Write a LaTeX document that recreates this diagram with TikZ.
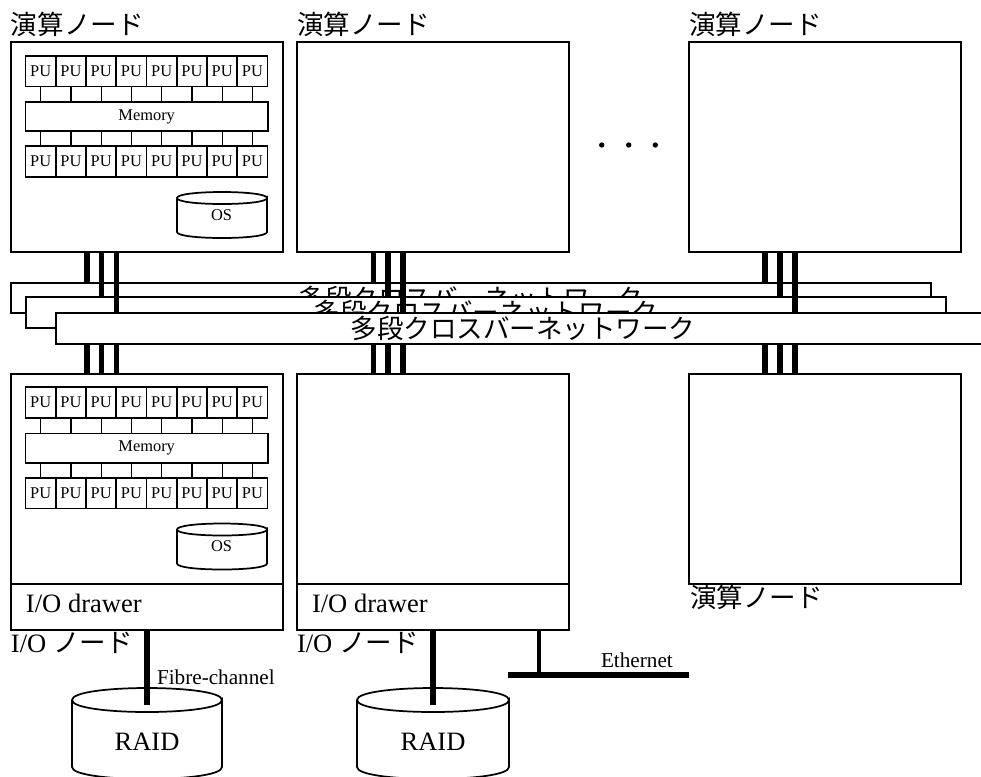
\documentclass[tikz,border=0pt]{standalone}
\usepackage{fontspec}
\setmainfont{Liberation Serif}
\newfontfamily\jp{Noto Sans CJK JP}
\usetikzlibrary{calc}
\newcommand\fsmall{\fontsize{12.3}{14}\selectfont}
\newcommand\fmid{\fontsize{15.9}{18}\selectfont}
\newcommand\fbig{\fontsize{19.9}{24}\selectfont}
\tikzset{
  x=0.75pt,y=-0.75pt,
  every node/.style={inner sep=0pt,outer sep=0pt},
  frame/.style={draw=black,fill=white,line width=1.5pt,minimum width=204pt,minimum height=157.5pt},
  drawerbox/.style={draw=black,fill=white,line width=1.5pt,minimum width=204pt,minimum height=34.5pt},
  netbar/.style={draw=black,fill=white,line width=1.5pt,minimum height=22.9pt,font=\fbig\jp},
  pubox/.style={draw=black,fill=white,line width=1.25pt,minimum width=22.7pt,minimum height=23pt,font=\fsmall},
  membox/.style={draw=black,fill=white,line width=1.25pt,minimum width=181.6pt,minimum height=22pt,font=\fsmall},
  thin link/.style={draw=black,line width=1pt},
  bus/.style={draw=black,line width=4.1pt},
  stem/.style={draw=black,line width=3pt},
  thickline/.style={draw=black,line width=4.4pt},
  jplabel/.style={anchor=west,font=\fbig\jp},
  drumline/.style={draw=black,fill=white,line width=1.3pt},
  dotmark/.style={circle,fill=black,minimum size=4pt},
}
% #1 left, #2 right, #3 top-ellipse centre y, #4 side end y, #5 ry
\newcommand\drumshape[5]{%
  \path[drumline] (#1,{#3}) -- (#1,{#4}) .. controls (#1,{#4+1.333*#5}) and (#2,{#4+1.333*#5}) .. (#2,{#4}) -- (#2,{#3})
     .. controls (#2,{#3+1.333*#5}) and (#1,{#3+1.333*#5}) .. (#1,{#3})
     .. controls (#1,{#3-1.333*#5}) and (#2,{#3-1.333*#5}) .. (#2,{#3});
}
% #1 prefix, #2 vertical offset
\newcommand\fillnode[2]{%
  \foreach \i in {0,...,7}{
    \node[pubox] (#1a\i) at ({40.7+30.25*\i},{71+#2}) {PU};
    \node[pubox] (#1b\i) at ({40.7+30.25*\i},{161.5+#2}) {PU};
  }
  \node[membox] (#1m) at (146.7,{116.5+#2}) {Memory};
  \foreach \i in {0,...,7}{
    \draw[thin link] (#1a\i.south) -- (#1a\i.south |- #1m.north);
    \draw[thin link] (#1b\i.north) -- (#1b\i.north |- #1m.south);
  }
  \drumshape{177}{267}{198+#2}{232+#2}{6}
  \node[font=\fsmall] (#1os) at (221.5,{215+#2}) {OS};
}
\begin{document}
\begin{tikzpicture}
\useasboundingbox (0,0) rectangle (981,776);

% compute nodes
\node[frame] (n1) at (147,146.5) {};
\node[frame] (n2) at (433,146.5) {};
\node[frame] (n3) at (825,146.5) {};
\node[frame] (n4) at (147,478.5) {};
\node[frame] (n5) at (433,478.5) {};
\node[frame] (n6) at (825,478.5) {};

\node[jplabel] (l1) at (11,24.5) {演算ノード};
\node[jplabel] (l2) at (297,24.5) {演算ノード};
\node[jplabel] (l3) at (689,24.5) {演算ノード};
\node[jplabel] (l6) at (690,597.5) {演算ノード};

\fillnode{p}{0}
\fillnode{q}{331.5}

% network bars
\node[netbar,minimum width=690pt] (bar1) at (471,298) {多段クロスバーネットワーク};
\node[netbar,minimum width=690pt] (bar2) at (486,312.5) {多段クロスバーネットワーク};
\node[netbar,minimum width=700.5pt] (bar3) at (523,328.3) {多段クロスバーネットワーク};

% buses
\foreach \u/\v/\w/\lo/\hi in {87/101.5/116.5/n1/n4,373.5/388/403/n2/n5,765/780/795/n3/n6}{
  \draw[bus] (\u,0 |- \lo.south) -- (\u,0 |- bar1.north);
  \draw[bus] (\v,0 |- \lo.south) -- (\v,0 |- bar2.north);
  \draw[bus] (\w,0 |- \lo.south) -- (\w,0 |- bar3.north);
  \draw[bus] (\u,0 |- bar3.south) -- (\u,0 |- \hi.north);
  \draw[bus] (\v,0 |- bar3.south) -- (\v,0 |- \hi.north);
  \draw[bus] (\w,0 |- bar3.south) -- (\w,0 |- \hi.north);
}

% dots
\node[dotmark] (d1) at (601.7,145) {};
\node[dotmark] (d2) at (628.7,145) {};
\node[dotmark] (d3) at (655.3,145) {};

% I/O drawers
\node[drawerbox] (dr1) at (147,607) {};
\node[drawerbox] (dr2) at (433,607) {};
\node[anchor=west,font=\fbig] (dt1) at (26,603.5) {I/O drawer};
\node[anchor=west,font=\fbig] (dt2) at (312,603.5) {I/O drawer};
\node[jplabel,font=\fbig] (io1) at (11,643) {I/O {\jp ノード}};
\node[jplabel,font=\fbig] (io2) at (297,643) {I/O {\jp ノード}};

% RAID
\drumshape{72}{222}{700}{767}{12}
\drumshape{357}{509}{700}{767}{12}
\node[font=\fbig] (r1) at (147,742) {RAID};
\node[font=\fbig] (r2) at (433,742) {RAID};
\coordinate (r1in) at (147,705);
\coordinate (r2in) at (433,705);
\draw[thickline] (dr1.south) -- (r1in);
\draw[thickline] (dr2.south) -- (r2in);
\node[anchor=west,font=\fmid] (fc) at (157,677) {Fibre-channel};

% Ethernet
\coordinate (ea) at (508,675);
\coordinate (eb) at (689,675);
\draw[thickline] (ea) -- (eb);
\draw[stem] (539,0 |- dr2.south) -- (539,0 |- ea);
\node[anchor=west,font=\fmid] (et) at (601,660) {Ethernet};
\end{tikzpicture}
\end{document}
